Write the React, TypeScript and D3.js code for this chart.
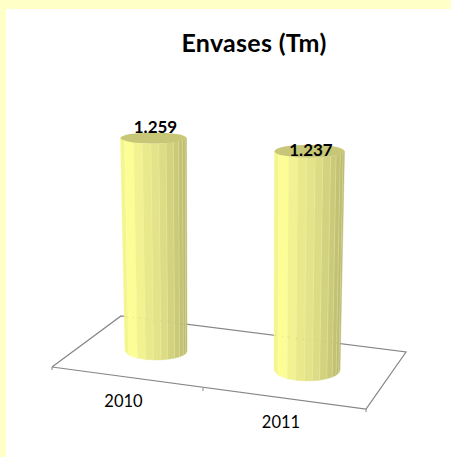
import React from "react";
import * as d3 from "d3";

const title = "Envases (Tm)";
const categories = ["2010", "2011"];
const values = [1259, 1237];
const valueLabels = ["1.259", "1.237"];

const W = 451, H = 457;
const FONT = "Lato, Carlito, Calibri, sans-serif";
const GRID = "#868686";

// floor corners
const FL: [number, number] = [52, 367];
const BL: [number, number] = [121, 316];
const BR: [number, number] = [406, 352];
const FR: [number, number] = [366, 409];

// perspective helpers: category index -> screen geometry
const idx = categories.map((_, i) => i);
const baseCx = d3.scaleLinear().domain([0, 1]).range([156, 307]);
const baseCy = d3.scaleLinear().domain([0, 1]).range([351, 370]);
const baseRx = d3.scaleLinear().domain([0, 1]).range([31, 33]);
const baseRy = d3.scaleLinear().domain([0, 1]).range([9, 11]);
const topCx = d3.scaleLinear().domain([0, 1]).range([153.5, 309.5]);
const topRx = d3.scaleLinear().domain([0, 1]).range([33, 35]);
const topRy = d3.scaleLinear().domain([0, 1]).range([5.5, 6.5]);
const depth = d3.scaleLinear().domain([0, 1]).range([1, 1.0455]);
const hScale = d3.scaleLinear().domain([0, 1259]).range([0, 213]);
const backEdge = d3.scaleLinear().domain([BL[0], BR[0]]).range([BL[1], BR[1]]);

// facet boundaries across the visible width, and shading across it
const facets = [0, 0.06, 0.2, 0.33, 0.46, 0.58, 0.69, 0.8, 0.88, 0.94, 0.98, 1];
const shade = d3
  .scaleLinear<string>()
  .domain([0, 0.15, 0.3, 0.55, 0.8, 1])
  .range(["#f2f28a", "#ffff98", "#eeee8e", "#e2e288", "#cfcf7c", "#b8b86e"]);

const edgeY = (cy: number, ry: number, t: number) => {
  const u = 2 * t - 1;
  return cy + ry * Math.sqrt(Math.max(0, 1 - u * u));
};

function Cylinder({ i }: { i: number }) {
  const bcx = baseCx(i), bcy = baseCy(i), brx = baseRx(i), bry = baseRy(i);
  const tcx = topCx(i), trx = topRx(i), trY = topRy(i);
  const tcy = bcy - hScale(values[i]) * depth(i);
  const strips = d3.pairs(facets).map(([a, b], k) => {
    const tx = (t: number) => tcx - trx + 2 * trx * t;
    const bx = (t: number) => bcx - brx + 2 * brx * t;
    const d = [
      [tx(a), edgeY(tcy, trY, a)],
      [tx(b), edgeY(tcy, trY, b)],
      [bx(b), edgeY(bcy, bry, b)],
      [bx(a), edgeY(bcy, bry, a)],
    ];
    return (
      <g key={k}>
        <polygon
          points={d.map((p) => p.join(",")).join(" ")}
          fill={shade((a + b) / 2)}
          stroke={shade((a + b) / 2)}
          strokeWidth={0.4}
        />
        {k > 0 && (
          <line x1={d[0][0]} y1={d[0][1]} x2={d[3][0]} y2={d[3][1]} stroke="#fbfbc0" strokeWidth={0.8} strokeOpacity={0.35} />
        )}
      </g>
    );
  });
  const x0 = bcx - brx + 1, x1 = bcx + brx - 1;
  return (
    <g>
      {strips}
      <ellipse cx={tcx} cy={tcy} rx={trx} ry={trY} fill="#c7c777" />
      <line
        x1={x0}
        y1={backEdge(x0)}
        x2={x1}
        y2={backEdge(x1)}
        stroke="#a8a870"
        strokeOpacity={0.45}
        strokeWidth={0.8}
        strokeDasharray="1 6"
      />
    </g>
  );
}

export default function App() {
  const path = d3.line();
  const midTick: [number, number] = [203, 388];
  const labelX = d3.scaleLinear().domain([0, 1]).range([123.5, 281]);
  const labelY = d3.scaleLinear().domain([0, 1]).range([406.5, 428]);
  const dataX = d3.scaleLinear().domain([0, 1]).range([155.5, 311]);
  const dataY = d3.scaleLinear().domain([0, 1]).range([133, 156]);
  return (
    <svg
      width={W}
      height={H}
      viewBox={`0 0 ${W} ${H}`}
      style={{ position: "absolute", left: 0, top: 0, display: "block", background: "#fff" }}
    >
      <rect x={0} y={0} width={W} height={9} fill="#ffffc8" />
      <rect x={0} y={0} width={6} height={H} fill="#ffffc8" />
      <text x={254} y={52} textAnchor="middle" fontFamily={FONT} fontWeight={700} fontSize={25} letterSpacing={0.3} fill="#000">
        {title}
      </text>
      <path d={path([FL, BL, BR, FR, FL]) ?? ""} fill="none" stroke={GRID} strokeWidth={1.2} />
      <path d={path([FL, [FL[0], FL[1] + 3]]) ?? ""} stroke={GRID} strokeWidth={1} />
      <path d={path([midTick, [midTick[0], midTick[1] + 3]]) ?? ""} stroke={GRID} strokeWidth={1} />
      <path d={path([FR, [FR[0], FR[1] + 3]]) ?? ""} stroke={GRID} strokeWidth={1} />
      {idx.map((i) => (
        <Cylinder key={i} i={i} />
      ))}
      {categories.map((c, i) => (
        <text key={c} x={labelX(i)} y={labelY(i)} textAnchor="middle" fontFamily={FONT} fontSize={16.5} fill="#000">
          {c}
        </text>
      ))}
      {valueLabels.map((l, i) => (
        <text key={l} x={dataX(i)} y={dataY(i)} textAnchor="middle" fontFamily={FONT} fontWeight={700} fontSize={17} fill="#000">
          {l}
        </text>
      ))}
    </svg>
  );
}
